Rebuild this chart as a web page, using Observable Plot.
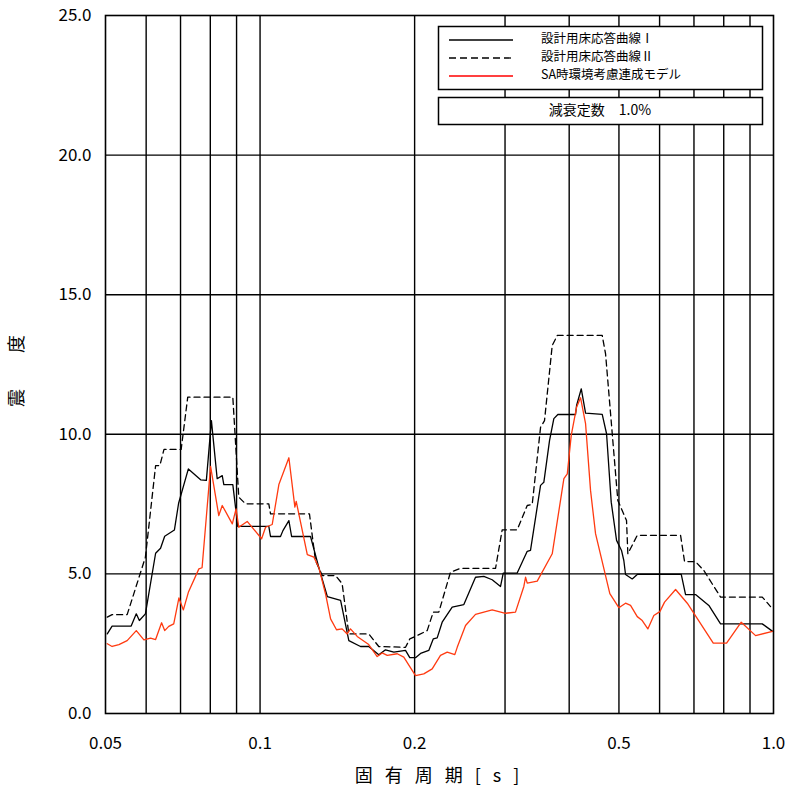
<!DOCTYPE html>
<html><head><meta charset="utf-8">
<script src="https://cdn.jsdelivr.net/npm/d3@7"></script>
<script src="https://cdn.jsdelivr.net/npm/@observablehq/plot@0.6"></script>
<style>body{margin:0;background:#fff;}</style>
</head><body><div id="chart"></div>
<script>
// 設計用床応答曲線Ⅰ
const periodsI = [0.0504,0.0515,0.0561,0.0574,0.0582,0.0598,0.0626,0.0640,0.0652,0.0681,0.0694,0.0725,0.0766,0.0786,0.0804,0.0825,0.0844,0.0850,0.0885,0.0905,0.1040,0.1048,0.1096,0.1108,0.1138,0.1152,0.1254,0.1301,0.1352,0.1435,0.1489,0.1569,0.1628,0.1703,0.1755,0.1822,0.1920,0.1957,0.2008,0.2054,0.2131,0.2174,0.2213,0.2263,0.2367,0.2494,0.2628,0.2728,0.2832,0.2940,0.2976,0.3168,0.3314,0.3363,0.3518,0.3570,0.3663,0.3734,0.3802,0.4116,0.4135,0.4223,0.4305,0.4639,0.4730,0.4830,0.4947,0.5058,0.5111,0.5150,0.5307,0.5428,0.6612,0.6741,0.7050,0.7483,0.7887,0.9509,0.9945];
const valuesI  = [2.85,3.13,3.13,3.57,3.33,3.57,5.74,5.92,6.35,6.57,7.53,8.76,8.37,8.35,10.49,8.41,8.52,8.20,8.20,6.70,6.70,6.34,6.34,6.55,6.91,6.34,6.34,5.24,4.19,4.05,2.61,2.40,2.40,2.10,2.28,2.20,2.26,2.00,2.00,2.15,2.26,2.67,2.71,3.27,3.81,3.90,4.88,4.91,4.79,4.55,5.03,5.03,5.81,5.84,8.17,8.28,9.78,10.56,10.71,10.71,11.03,11.63,10.76,10.71,10.02,7.57,6.20,5.84,5.48,4.98,4.82,4.98,4.98,4.26,4.26,3.87,3.21,3.21,2.95];

// 設計用床応答曲線Ⅱ
const periodsII = [0.0504,0.0515,0.0551,0.0598,0.0626,0.0638,0.0650,0.0702,0.0723,0.0885,0.0909,0.0937,0.1040,0.1048,0.1248,0.1282,0.1322,0.1403,0.1445,0.1489,0.1628,0.1703,0.1920,0.1957,0.2008,0.2116,0.2174,0.2229,0.2349,0.2457,0.2875,0.2962,0.3168,0.3314,0.3389,0.3518,0.3581,0.3707,0.3792,0.4639,0.4709,0.4975,0.5173,0.5204,0.5428,0.6592,0.6711,0.7050,0.7317,0.7887,0.9509,0.9869];
const valuesII  = [3.45,3.54,3.54,5.60,8.88,8.88,9.46,9.46,11.33,11.33,7.75,7.51,7.51,7.15,7.15,5.48,4.94,4.94,4.65,2.85,2.85,2.40,2.37,2.67,2.76,2.97,3.63,3.63,5.06,5.20,5.20,6.58,6.58,7.45,7.49,10.25,10.49,13.18,13.54,13.54,12.88,7.63,6.91,5.72,6.38,6.38,5.44,5.44,5.12,4.17,4.17,3.83];

// SA時環境考慮連成モデル
const periodsSA = [0.0504,0.0515,0.0531,0.0551,0.0574,0.0594,0.0612,0.0626,0.0643,0.0652,0.0664,0.0679,0.0695,0.0709,0.0725,0.0760,0.0771,0.0801,0.0831,0.0844,0.0883,0.0898,0.0909,0.0944,0.1007,0.1025,0.1056,0.1088,0.1138,0.1169,0.1176,0.1236,0.1273,0.1301,0.1341,0.1372,0.1409,0.1445,0.1478,0.1500,0.1546,0.1628,0.1691,0.1729,0.1769,0.1850,0.1905,0.2008,0.2084,0.2164,0.2246,0.2315,0.2395,0.2421,0.2513,0.2628,0.2832,0.3006,0.3144,0.3264,0.3289,0.3314,0.3466,0.3707,0.3906,0.3966,0.4037,0.4135,0.4209,0.4305,0.4402,0.4502,0.4800,0.4998,0.5150,0.5267,0.5428,0.5551,0.5692,0.5847,0.6007,0.6135,0.6446,0.6793,0.7633,0.8102,0.8653,0.9228,1.0];
const valuesSA  = [2.50,2.40,2.47,2.61,2.97,2.64,2.70,2.65,3.25,2.97,3.12,3.21,4.14,3.71,4.34,5.18,5.22,8.85,7.09,7.45,6.79,7.33,6.67,6.88,6.26,6.67,6.77,8.20,9.16,7.39,7.60,5.69,5.60,5.24,4.29,3.39,3.00,3.03,2.85,3.03,2.76,2.47,2.04,2.17,2.08,2.14,2.02,1.36,1.42,1.60,2.08,2.20,2.11,2.37,3.15,3.55,3.71,3.59,3.63,4.55,4.88,4.67,4.74,5.72,8.41,8.58,9.96,10.97,11.31,10.38,7.99,6.44,4.29,3.79,3.95,3.87,3.47,3.33,3.03,3.51,3.65,3.99,4.44,3.95,2.52,2.52,3.27,2.79,2.95];

const seriesNames = ["設計用床応答曲線Ⅰ", "設計用床応答曲線Ⅱ", "SA時環境考慮連成モデル"];
const dampingLabel = "減衰定数　1.0%";
const xTicks = [0.05, 0.1, 0.2, 0.5, 1.0];
const xTickLabels = ["0.05", "0.1", "0.2", "0.5", "1.0"];
const xGrid = [0.06, 0.07, 0.08, 0.09, 0.1, 0.2, 0.3, 0.4, 0.5, 0.6, 0.7, 0.8, 0.9];
const yTicks = [0, 5, 10, 15, 20, 25];
const yGrid = [5, 10, 15, 20];
const xLabel = "固有周期[s]";
const yLabel = "震度";

const toRows = (ps, vs) => ps.map((p, i) => ({T: p, v: vs[i]}));
const dataI = toRows(periodsI, valuesI);
const dataII = toRows(periodsII, valuesII);
const dataSA = toRows(periodsSA, valuesSA);

const FONT = '"Noto Sans CJK JP", "DejaVu Sans", sans-serif';
const RED = "#ff3a10";

const plot = Plot.plot({
  width: 793, height: 794,
  marginLeft: 105, marginRight: 20, marginTop: 15, marginBottom: 81,
  style: {fontFamily: FONT, fontSize: "17px", background: "#fff", color: "#000"},
  x: {type: "log", domain: [0.05, 1.0]},
  y: {domain: [0, 25]},
  marks: [
    Plot.ruleX(xGrid, {stroke: "#000", strokeWidth: 1.4}),
    Plot.ruleY(yGrid, {stroke: "#000", strokeWidth: 1.4}),
    Plot.line(dataII, {x: "T", y: "v", stroke: "#000", strokeWidth: 1.3, strokeDasharray: "6,4"}),
    Plot.line(dataI, {x: "T", y: "v", stroke: "#000", strokeWidth: 1.3}),
    Plot.line(dataSA, {x: "T", y: "v", stroke: RED, strokeWidth: 1.3}),
    Plot.frame({stroke: "#000", strokeWidth: 1.6}),
    Plot.axisX({ticks: xTicks, tickSize: 0, tickPadding: 23, tickFormat: d => xTickLabels[xTicks.indexOf(d)], label: null, fontSize: 17}),
    Plot.axisY({ticks: yTicks, tickSize: 0, tickPadding: 14, tickFormat: d => d.toFixed(1), label: null, fontSize: 17})
  ]
});
document.getElementById("chart").appendChild(plot);

const svg = d3.select(plot);
// axis titles
svg.append("text").attr("x", 443).attr("y", 777).attr("text-anchor", "middle")
  .attr("dominant-baseline", "middle").attr("font-size", 18).attr("font-family", FONT)
  .attr("letter-spacing", "12px").attr("fill", "#000").text(xLabel);
svg.append("text").attr("transform", "translate(18,353) rotate(-90)").attr("text-anchor", "middle")
  .attr("dominant-baseline", "middle").attr("font-size", 18).attr("font-family", FONT)
  .attr("letter-spacing", "36px").attr("fill", "#000").text(yLabel);

// legend boxes
const lg = svg.append("g").attr("font-family", FONT).attr("fill", "#000").attr("text-anchor", "start");
lg.append("rect").attr("x", 438.5).attr("y", 26.5).attr("width", 324).attr("height", 63)
  .attr("fill", "#fff").attr("stroke", "#000").attr("stroke-width", 1.5);
lg.append("rect").attr("x", 438.5).attr("y", 97.5).attr("width", 324).attr("height", 27)
  .attr("fill", "#fff").attr("stroke", "#000").attr("stroke-width", 1.5);
const rowsY = [40, 58, 76];
const styles = [{s: "#000", d: null}, {s: "#000", d: "7,4"}, {s: "#ff0000", d: null}];
rowsY.forEach((y, i) => {
  lg.append("line").attr("x1", 449).attr("x2", 513).attr("y1", y).attr("y2", y)
    .attr("stroke", styles[i].s).attr("stroke-width", 1.3)
    .attr("stroke-dasharray", styles[i].d);
  lg.append("text").attr("x", 541).attr("y", y).attr("dominant-baseline", "middle")
    .attr("text-anchor", "start").attr("font-size", 12.5).text(seriesNames[i]);
});
lg.append("text").attr("x", 600).attr("y", 111).attr("text-anchor", "middle")
  .attr("dominant-baseline", "middle").attr("font-size", 14).text(dampingLabel);
</script>
</body></html>
